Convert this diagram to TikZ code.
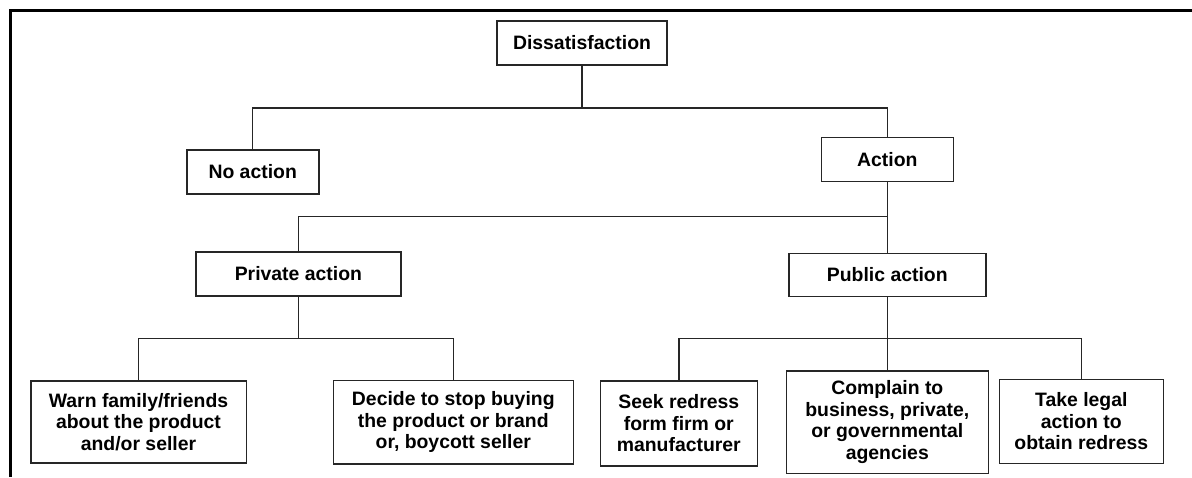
\documentclass[tikz,border=0pt]{standalone}
\usepackage{fontspec}
\setmainfont{Liberation Sans}
\begin{document}
\begin{tikzpicture}[x=1pt,y=-1pt,
  box/.style={draw=black!85, line width=1.6pt, fill=white, align=center,
    inner sep=0pt, font=\fontsize{19.4}{21.5}\selectfont\bfseries},
  link/.style={draw=black!85, line width=1.5pt},
  frame/.style={draw=black, line width=3pt}]
  \useasboundingbox (0,0) rectangle (1192,477);
  % outer frame (top and left edges)
  \draw[frame] (10,477) -- (10,10) -- (1192,10);

  % boxes
  \node[box, minimum width=170pt, minimum height=44pt] (dis) at (582,43) {Dissatisfaction};
  \node[box, minimum width=132pt, minimum height=44pt] (noact) at (252.7,172) {No action};
  \node[box, minimum width=132pt, minimum height=44pt] (act) at (887.3,159.5) {Action};
  \node[box, minimum width=197pt, minimum height=43pt] (pub) at (887.3,275) {Public action};
  \node[box, minimum width=205pt, minimum height=44pt] (priv) at (298.4,273.7) {Private action};
  \node[box, minimum width=215.6pt, minimum height=82pt] (warn) at (138.5,422) {Warn family/friends\\about the product\\and/or seller};
  \node[box, minimum width=240pt, minimum height=83.3pt] (decide) at (453.3,422.3) {Decide to stop buying\\the product or brand\\or, boycott seller};
  \node[box, minimum width=157pt, minimum height=85pt] (seek) at (678.8,423.2) {Seek redress\\form firm or\\manufacturer};
  \node[box, minimum width=202pt, minimum height=102.6pt] (comp) at (887.3,422) {Complain to\\business, private,\\or governmental\\agencies};
  \node[box, minimum width=164pt, minimum height=84pt] (legal) at (1081.3,421.3) {Take legal\\action to\\obtain redress};

  % branch points
  \coordinate (j1) at (582,108);
  \coordinate (j2) at (887.3,216.7);
  \coordinate (j3) at (298.4,338.3);
  \coordinate (j4) at (887.3,338.3);

  % connectors
  \draw[link] (dis.south) -- (j1);
  \draw[link] (noact.north) |- (j1) -| (act.north);
  \draw[link] (act.south) -- (pub.north);
  \draw[link] (priv.north) |- (j2);
  \draw[link] (priv.south) -- (j3);
  \draw[link] (warn.north) |- (j3) -| (decide.north);
  \draw[link] (pub.south) -- (comp.north);
  \draw[link] (seek.north) |- (j4) -| (legal.north);
\end{tikzpicture}
\end{document}
